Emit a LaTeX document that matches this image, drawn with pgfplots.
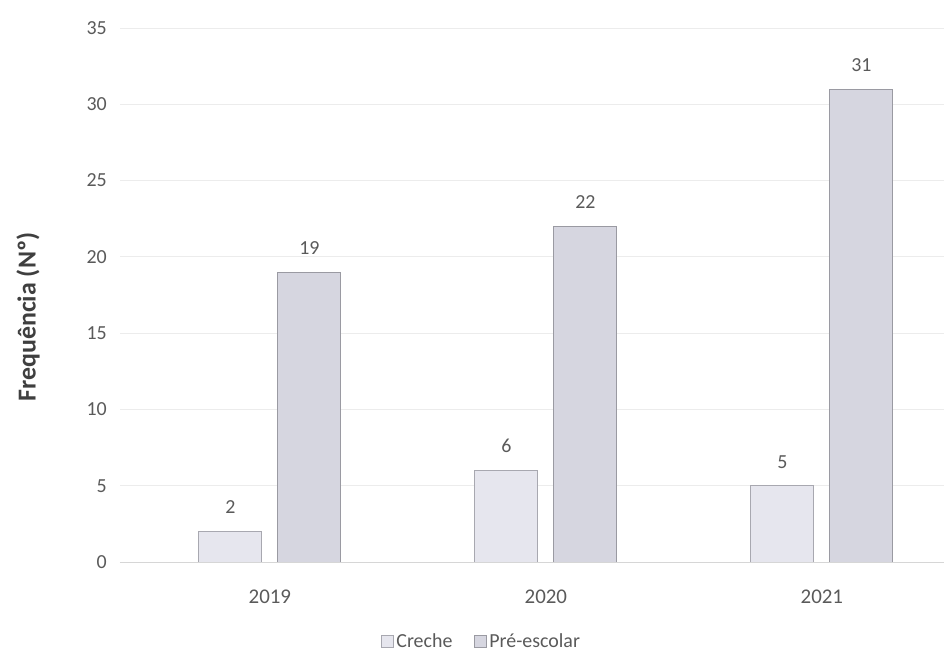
\documentclass[border=0pt]{standalone}
\usepackage{pgfplots}
\pgfplotsset{compat=1.18}
\usepackage{fontspec}
\setmainfont{Carlito}
\definecolor{txt}{HTML}{5A5A5A}
\definecolor{crefill}{HTML}{E6E6EE}
\definecolor{credraw}{HTML}{A8A8B0}
\definecolor{prefill}{HTML}{D6D6E0}
\definecolor{predraw}{HTML}{9A9AA2}
\definecolor{gridc}{HTML}{ECECEC}
\begin{document}
\begin{tikzpicture}
\begin{axis}[
  at={(0,0)}, anchor=south west,
  scale only axis,
  x=276bp, y=15.257bp,
  xmin=-0.543, xmax=2.442,
  ymin=0, ymax=35,
  ybar=16bp, bar width=63bp,
  axis line style={draw=none},
  xtick={0,1,2}, xticklabels={2019,2020,2021},
  ytick={0,5,...,35},
  major tick length=0pt,
  tick style={draw=none},
  ymajorgrids, grid style={gridc, line width=1bp},
  xticklabel style={font=\fontsize{21}{21}\selectfont, text=txt, inner sep=0pt, anchor=north, yshift=-28bp},
  yticklabel style={font=\fontsize{20}{20}\selectfont, text=txt, inner sep=0pt, anchor=east, xshift=-13bp},
  /pgf/number format/assume math mode=true,
  ylabel={Frequência (Nº)},
  every axis y label/.style={at={(axis description cs:-0.1117,0.4588)}, anchor=center, rotate=90, font=\bfseries\fontsize{26}{26}\selectfont, text=txt!70!black},
  nodes near coords,
  every node near coord/.append style={font=\fontsize{20}{20}\selectfont, text=txt, inner sep=0pt, anchor=south, yshift=17bp},
  legend style={at={(axis description cs:0.439,-0.148)}, anchor=center, draw=none, fill=none, legend columns=2, font=\fontsize{20}{20}\selectfont, text=txt, inner sep=0pt, /tikz/every even column/.append style={column sep=20bp}},
  legend image code/.code={\draw[#1, line width=1bp] (2bp,-6bp) rectangle (14bp,6bp);},
  clip=false,
]
\addplot[fill=crefill, draw=credraw, line width=1bp] coordinates {(0,2) (1,6) (2,5)};
\addplot[fill=prefill, draw=predraw, line width=1bp] coordinates {(0,19) (1,22) (2,31)};
\draw[gridc!80!gray, line width=1bp] (axis cs:-0.543,0) -- (axis cs:2.442,0);
\legend{Creche, Pré-escolar}
\end{axis}
\pgfresetboundingbox
\path[use as bounding box] (-120bp,-93bp) rectangle (824bp,562bp);
\end{tikzpicture}
\end{document}
